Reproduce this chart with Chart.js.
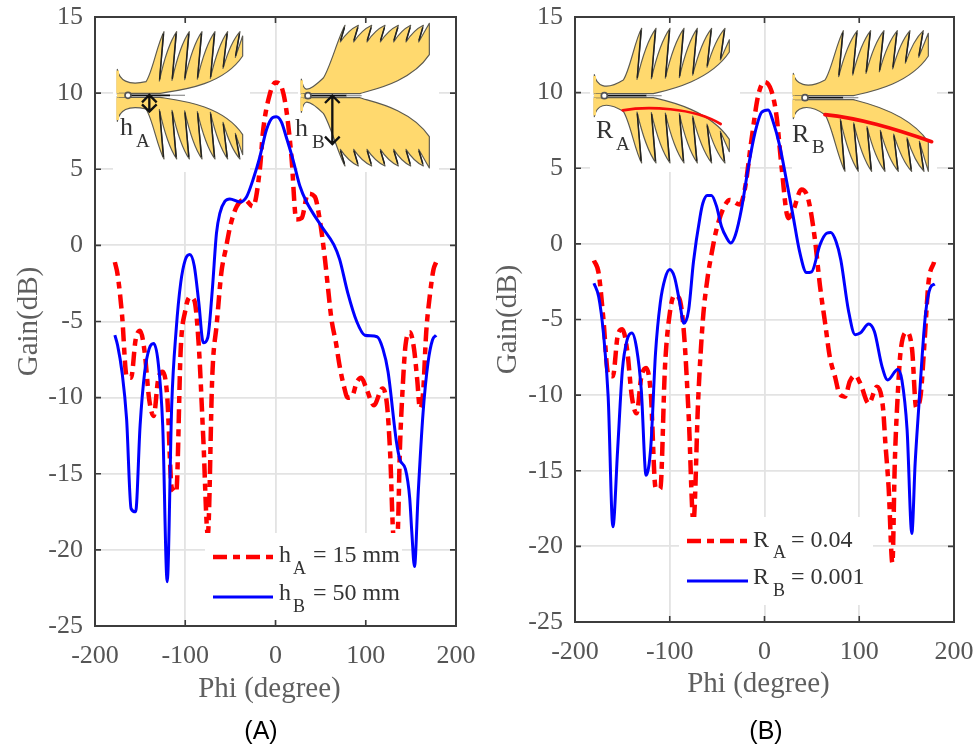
<!DOCTYPE html>
<html><head><meta charset="utf-8">
<style>html,body{margin:0;padding:0;background:#fff;width:975px;height:748px;overflow:hidden}
canvas{position:absolute;top:0}</style>
<script src="https://cdn.jsdelivr.net/npm/chart.js@4"></script></head>
<body>
<canvas id="c1" style="left:0"></canvas>
<canvas id="c2" style="left:487px"></canvas>
<script>
const xTicks=[-200,-100,0,100,200];
const yTicks=[-25,-20,-15,-10,-5,0,5,10,15];
const phiRedA=[-178,-175,-170,-165,-160,-155,-150,-145,-140,-135,-130,-125,-120,-115,-110,-105,-100,-95,-90,-85,-80,-75,-70,-65,-60,-55,-50,-43,-34,-25,-17,-14,-6,0,6.6,12,17.7,23,29,36,43.5,49,54.6,58,62,67,71,75.6,80,85,90,95,100.7,109,118.5,123.6,127,131,135,138,140.6,144,149,153.5,157,160,163.5,167,171,175,178];
const gainRedA=[-1.1,-1.9,-4.6,-8.6,-8.7,-6.2,-5.6,-7,-10.1,-11.2,-8.8,-8.3,-9.9,-15.9,-16.2,-6.8,-4.3,-3.4,-3.6,-6.6,-12.7,-19,-8.5,-5.1,-1.8,-0.2,1.3,2.55,3,2.55,5.2,7.4,10,10.7,10.4,8.9,5.8,1.7,1.8,3.4,3.2,1.7,-0.8,-2.7,-4.85,-6.4,-7.9,-9.2,-10,-9.9,-9,-8.7,-9.4,-10.5,-9.4,-10.5,-13.6,-19.2,-19.2,-13.1,-9.7,-6.6,-5.7,-6.8,-8.8,-10.7,-9.7,-5.7,-3.3,-1.6,-1.1];
const phiBlueA=[-178,-175,-170,-165,-160,-155,-150,-145,-140,-135,-130,-125,-120,-115,-110,-105,-100,-95,-90,-85,-80,-75,-70,-65.4,-61.7,-56,-50.6,-39.5,-32,-25,-17.4,-10,-3,1,6.6,12,19.5,27,34,51,64.6,71,80,90,99,112.5,119,124.7,134,138,144,148.7,151,154,158,163.5,169,174,178];
const gainBlueA=[-5.9,-6.55,-8.35,-11.4,-17.3,-17.5,-11.8,-8.35,-6.8,-6.45,-7.7,-11.8,-22.1,-10.5,-5.5,-2.45,-0.95,-0.6,-1.35,-3.75,-6.4,-6.05,-2.9,0.8,2.1,2.9,3.05,2.85,3.2,4.3,5.8,7.6,8.4,8.45,8.1,7.1,5.6,3.9,2.9,1.25,0.05,-0.9,-3.1,-5,-5.9,-6,-6.8,-8.3,-12.9,-14.1,-14.7,-16.6,-18.8,-21.1,-16.4,-11,-7.7,-6.2,-5.9];
const phiRedB=[-180,-175,-170,-165,-160,-155,-150,-145,-140,-135,-130,-125,-120,-115,-110,-105,-100,-95,-90,-85,-80,-75,-70,-65,-60,-56,-50.7,-43.7,-36.6,-26,-20.8,-13.7,-6.7,0,7.4,12.7,18,25,30,39,46,53,58.6,64,69,74.5,79,85,90,95.6,101,110,118.7,125,127.6,131,135,137.5,140.7,143.5,150.5,155.8,160,164.6,169,173,179];
const gainRedB=[-1.1,-1.95,-5,-8.6,-8.75,-6.1,-5.65,-7,-10.1,-11.2,-8.8,-8.2,-9.9,-16.1,-16.2,-8.1,-4.6,-3.4,-3.6,-5.9,-11.4,-18.4,-10.3,-5,-2.2,-0.7,0.95,2.3,2.9,2.6,3.6,6.9,9.8,10.7,10.1,8.45,5.1,1.7,2.15,3.6,3,0.4,-2.8,-5.25,-7.5,-8.8,-9.9,-10.1,-9.1,-8.7,-9.2,-10.55,-9.45,-10.8,-13.2,-16.1,-21.1,-14.5,-9.9,-7.2,-5.85,-7,-10.8,-10.1,-6.4,-2.6,-1.2];
const phiBlueB=[-180,-175,-170,-165,-160,-155,-150,-145,-140,-135,-130,-125,-120,-115,-110,-105,-100,-95,-90,-85,-80,-75,-68,-65,-60.5,-56,-50.7,-45.4,-40,-35.6,-30.6,-24.3,-17,-10,-3,3.9,9,16.2,23,30,37,44.4,49.7,58.6,65.6,70,75.5,80.5,88.6,95.6,101,110,116,124,130,140.6,145,150.5,155.5,159,162.8,166.3,170,175,179.7];
const gainBlueB=[-2.6,-3.5,-5.9,-10.1,-18.7,-13.6,-8.35,-6.35,-5.9,-6.9,-9.7,-15.3,-13.4,-7.2,-3.9,-2.3,-1.7,-2.2,-3.7,-5.25,-4.35,-1.2,1.8,2.7,3.2,3.2,2.5,1.15,0.4,0.05,0.6,2.3,5.1,7.35,8.7,8.85,8.1,6.45,4.25,1.9,-0.5,-1.9,-1.85,-0.05,0.7,0.75,0.15,-1.05,-4.4,-6,-5.9,-5.3,-5.8,-8.1,-9,-8.3,-9,-12.3,-19.15,-14.5,-10.8,-7.5,-4.6,-2.9,-2.65];
const legendA=['h','A','= 15 mm','h','B','= 50 mm'];
const legendB=['R','A','= 0.04','R','B','= 0.001'];

const SERIF='"Liberation Serif","Times New Roman",serif';
const RED='#ff0000',BLUE='#0000ff',DASH=[14,6,7,6];
const YEL='#ffd96e';
const toPts=(xs,ys)=>xs.map((x,i)=>({x,y:ys[i]}));

// one half of a fishbone antenna, drawn in 3x zoom units, y axis pointing away from the slot
function halfAntenna(ctx,s){
  ctx.beginPath();
  ctx.moveTo(s.left,0);
  ctx.lineTo(s.left,s.lipY);
  ctx.bezierCurveTo(s.left+6,s.lipY-32,s.lipEnd-55,s.lipY-50,s.lipEnd,s.neckY);
  ctx.bezierCurveTo(s.lipEnd+20,s.neckY+30,s.tips[0]-20,s.tipY-35,s.tips[0],s.tipY);
  for(let i=0;i<s.tips.length-1;i++){
    const bx=s.tips[i]-s.lean, by=s.baseY(s.tips[i]), dx=s.tips[i+1]-bx;
    ctx.lineTo(bx,by);
    ctx.quadraticCurveTo(bx+dx*0.45,by+(s.tipY-by)*0.72,s.tips[i+1],s.tipY);
  }
  const last=s.tips[s.tips.length-1];
  ctx.lineTo(last-s.lean,s.baseY(last));
  ctx.lineTo(s.right,s.endTop);
  ctx.lineTo(s.right,s.endIn);
  ctx.bezierCurveTo(s.right-60,s.endIn-90,s.right-190,s.innerFlat+4,s.slotX,3);
  ctx.lineTo(s.left,3);
  ctx.closePath();
  ctx.fillStyle=YEL;
  ctx.fill();
  ctx.lineWidth=3.5; ctx.lineJoin='round'; ctx.strokeStyle='#5c5a50';
  ctx.stroke();
  ctx.strokeStyle='#222'; ctx.lineWidth=4.5; ctx.lineCap='round';
  s.tips.forEach(t=>{
    const bx=t-s.lean,by=s.baseY(t);
    ctx.beginPath(); ctx.moveTo(t-2,s.tipY-8); ctx.lineTo(bx+1,by+6); ctx.stroke();
  });
  ctx.fillStyle=YEL;
  ctx.fillRect(s.left-3,4,8,s.lipY-8);
}
function antenna(ctx,ox,oy,a){
  ctx.save();
  ctx.translate(ox,oy); ctx.scale(1/3,1/3);
  ctx.filter='blur(0.7px)';
  ctx.save(); ctx.translate(0,a.cy-3); ctx.scale(1,-1); halfAntenna(ctx,a.upper); ctx.restore();
  ctx.save(); ctx.translate(0,a.cy+3); halfAntenna(ctx,a.lower); ctx.restore();
  ctx.fillStyle=YEL;
  ctx.fillRect(a.upper.left-1,a.cy-6,a.fx-a.upper.left+6,12);
  ctx.strokeStyle='#111'; ctx.lineWidth=5;
  ctx.beginPath(); ctx.moveTo(a.fx,a.cy); ctx.lineTo(a.slot,a.cy); ctx.stroke();
  ctx.strokeStyle='#999'; ctx.lineWidth=4;
  ctx.beginPath(); ctx.moveTo(a.slot,a.cy); ctx.lineTo(a.slot+45,a.cy); ctx.stroke();
  ctx.fillStyle='#fff'; ctx.strokeStyle='#555'; ctx.lineWidth=5;
  ctx.beginPath(); ctx.arc(a.fx,a.cy,9,0,7); ctx.fill(); ctx.stroke();
  ctx.filter='none';
  if(a.arrow){
    const [x,y0,y1]=a.arrow; ctx.strokeStyle='#111'; ctx.lineWidth=7;
    ctx.beginPath(); ctx.moveTo(x,y0); ctx.lineTo(x,y1);
    ctx.moveTo(x-22,y0+22); ctx.lineTo(x,y0); ctx.lineTo(x+22,y0+22);
    ctx.moveTo(x-22,y1-22); ctx.lineTo(x,y1); ctx.lineTo(x+22,y1-22); ctx.stroke();
  }
  if(a.red){
    ctx.strokeStyle='#f80a0a'; ctx.lineWidth=a.red.w; ctx.lineCap='round';
    const r=a.red.p; ctx.beginPath(); ctx.moveTo(r[0],r[1]);
    ctx.bezierCurveTo(r[2],r[3],r[4],r[5],r[6],r[7]); ctx.stroke();
  }
  ctx.restore();
}
function sub(ctx,col,big,bs,bx,by,small,ss,sx,sy,rest,rx){
  ctx.fillStyle=col; ctx.textAlign='left'; ctx.textBaseline='alphabetic';
  ctx.font=bs+'px '+SERIF; ctx.fillText(big,bx,by);
  ctx.font=ss+'px '+SERIF; ctx.fillText(small,sx,sy);
  if(rest){ctx.font=bs+'px '+SERIF; ctx.fillText(rest,rx,by);}
}
const armA={left:172,right:548,lipY:75,lipEnd:258,neckY:38,tipY:188,tips:[312,350,388,426,465,503,540],lean:14,
  baseY:x=>x<470?40+(x-312)*0.05:48+(x-470)*0.9,endTop:175,endIn:115,innerFlat:8,slotX:300};
const armB={left:724,right:1108,lipY:47,lipEnd:790,neckY:50,tipY:208,tips:[855,895,935,975,1015,1052,1090],lean:14,
  baseY:()=>158,endTop:214,endIn:120,innerFlat:8,slotX:900};
const armRA={left:103,right:508,lipY:60,lipEnd:190,neckY:44,tipY:199,tips:[245,288,330,372,412,455,495],lean:14,
  baseY:x=>x<400?46+(x-245)*0.04:52+(x-400)*0.55,endTop:165,endIn:128,innerFlat:8,slotX:280};
const armRB={left:700,right:1105,lipY:70,lipEnd:795,neckY:50,tipY:198,tips:[850,892,932,972,1012,1050,1090],lean:14,
  baseY:x=>x<1000?60+(x-850)*0.12:78+(x-1000)*0.45,endTop:190,endIn:122,innerFlat:8,slotX:880};
const armRBlow=Object.assign({},armRB,{tipY:218,lipY:60,neckY:48,
  tips:[855,895,935,975,1015,1055,1092],baseY:x=>60+(x-850)*0.28,endTop:218,endIn:130});
const insets={
 A:[{cy:286,fx:204,slot:330,upper:armA,lower:armA,arrow:[268,285,335]},
    {cy:287,fx:744,slot:860,upper:armB,lower:armB,arrow:[817,287,432]}],
 B:[{cy:287,fx:133,slot:260,upper:armRA,lower:armRA,red:{w:8,p:[188,331,260,318,400,322,482,372]}},
    {cy:293,fx:735,slot:850,upper:armRB,lower:armRBlow,red:{w:11,p:[795,344,900,355,1000,385,1115,425]}}]
};
function panelPlugin(cfg){return {id:'panel',
 afterLayout(chart){
   const s=chart.scales.x;
   if(!s._shifted){s._shifted=true;const d=s.drawTitle;
     s.drawTitle=function(){const c=this.ctx;c.save();c.translate(cfg.titleShift,0);d.call(this);c.restore();};}
 },
 beforeDatasetsDraw(chart){
   const c=chart.ctx; c.save(); c.translate(-cfg.left,0);
   c.fillStyle='#fff'; cfg.patches.forEach(p=>c.fillRect(p[0],p[1],p[2],p[3]));
   antenna(c,cfg.zx,0,insets[cfg.key][0]);
   antenna(c,cfg.zx,0,insets[cfg.key][1]);
   cfg.labels.forEach(l=>sub(c,'#333',l[0],26,l[1],l[2],l[3],19,l[4],l[5]));
   c.restore();
 },
 afterDatasetsDraw(chart){
   const c=chart.ctx,{left,right,top,bottom}=chart.chartArea,sx=chart.scales.x,sy=chart.scales.y;
   c.save(); c.translate(-cfg.left,0);
   const L=cfg.legend;
   c.fillStyle='#fff'; c.fillRect(L.box[0],L.box[1],L.box[2],L.box[3]);
   c.lineWidth=4.5; c.strokeStyle=RED; c.setLineDash(DASH);
   c.beginPath(); c.moveTo(L.x0,L.y1); c.lineTo(L.x1,L.y1); c.stroke();
   c.setLineDash([]); c.lineWidth=3; c.strokeStyle=BLUE;
   c.beginPath(); c.moveTo(L.x0,L.y2); c.lineTo(L.x1,L.y2); c.stroke();
   const t=L.text;
   sub(c,'#333',t[0],L.size,L.tx,L.b1,t[1],18,L.sx,L.s1,t[2],L.rx);
   sub(c,'#333',t[3],L.size,L.tx,L.b2,t[4],18,L.sx,L.s2,t[5],L.rx);
   c.fillStyle='#000'; c.font='25px "Liberation Sans",Arial,sans-serif'; c.textAlign='center';
   c.fillText(cfg.caption,cfg.capX,739);
   c.restore();
   c.save();
   c.strokeStyle='#3c3c3c'; c.lineWidth=2;
   c.strokeRect(left,top,right-left,bottom-top);
   c.lineWidth=1.6; c.beginPath();
   xTicks.forEach(v=>{const p=sx.getPixelForValue(v);c.moveTo(p,bottom);c.lineTo(p,bottom-6);c.moveTo(p,top);c.lineTo(p,top+6);});
   yTicks.forEach(v=>{const p=sy.getPixelForValue(v);c.moveTo(left,p);c.lineTo(left+6,p);c.moveTo(right,p);c.lineTo(right-6,p);});
   c.stroke(); c.restore();
 }};}
function makeChart(id,w,pad,h,cfg,red,blue){
  const el=document.getElementById(id); el.width=w; el.height=748; el.style.width=w+'px'; el.style.height='748px';
  return new Chart(el,{type:'line',
   data:{datasets:[
     {label:cfg.names[0],data:red,borderColor:RED,borderWidth:4.5,borderDash:DASH,pointRadius:0,cubicInterpolationMode:'monotone',order:1,fill:false},
     {label:cfg.names[1],data:blue,borderColor:BLUE,borderWidth:3,pointRadius:0,cubicInterpolationMode:'monotone',order:0,fill:false}]},
   options:{responsive:false,animation:false,
    layout:{padding:{left:0,right:pad.right,top:17,bottom:pad.bottom}},
    plugins:{legend:{display:false},tooltip:{enabled:false}},
    scales:{
     x:{type:'linear',min:-200,max:200,
        afterBuildTicks(s){s.ticks=xTicks.map(value=>({value}));},
        afterFit(s){s.height=h;s.paddingLeft=0;s.paddingRight=0;},
        grid:{color:'#e3e3e3',lineWidth:1.8,drawTicks:false},border:{display:false},
        ticks:{autoSkip:false,maxRotation:0,color:'#555',font:{family:SERIF,size:26},padding:cfg.xPad},
        title:{display:true,text:'Phi (degree)',color:'#5f5f5f',font:{family:SERIF,size:29},padding:{top:8,bottom:0}}},
     y:{type:'linear',min:-25,max:15,
        afterBuildTicks(s){s.ticks=yTicks.map(value=>({value}));},
        afterFit(s){s.width=pad.left;s.paddingTop=0;s.paddingBottom=0;},
        grid:{color:'#e3e3e3',lineWidth:1.8,drawTicks:false},border:{display:false},
        ticks:{autoSkip:false,color:'#555',font:{family:SERIF,size:26},padding:12},
        title:{display:true,text:'Gain(dB)',color:'#5f5f5f',font:{family:SERIF,size:29},padding:{top:cfg.yTop,bottom:0}}}
    }},plugins:[panelPlugin(cfg)]});
}
makeChart('c1',487,{left:95,right:31,bottom:41},81,{
  key:'A',left:0,zx:60,titleShift:-6,xPad:15,yTop:12,names:['hA = 15 mm','hB = 50 mm'],caption:'(A)',capX:261,
  patches:[[113,22,137,150],[298,22,141,150]],
  labels:[['h',120,135,'A',136,147],['h',295,136,'B',312,148]],
  legend:{box:[205,533,197,87],x0:213,x1:273,y1:557,y2:597,tx:279,b1:562,s1:574,b2:600,s2:612,sx:293,rx:313,size:24,text:legendA}
},toPts(phiRedA,gainRedA),toPts(phiBlueA,gainBlueA));
makeChart('c2',488,{left:88,right:21,bottom:46},80,{
  key:'B',left:487,zx:560,titleShift:-6,xPad:15,yTop:4,names:['RA = 0.04','RB = 0.001'],caption:'(B)',capX:766,
  patches:[[590,22,150,150],[792,22,145,150]],
  labels:[['R',596,138,'A',616,150],['R',792,142,'B',812,153]],
  legend:{box:[679,517,194,88],x0:687,x1:748,y1:541,y2:581,tx:753,b1:547,s1:558,b2:584,s2:596,sx:773,rx:791,size:24,text:legendB}
},toPts(phiRedB,gainRedB),toPts(phiBlueB,gainBlueB));
</script>
</body></html>
